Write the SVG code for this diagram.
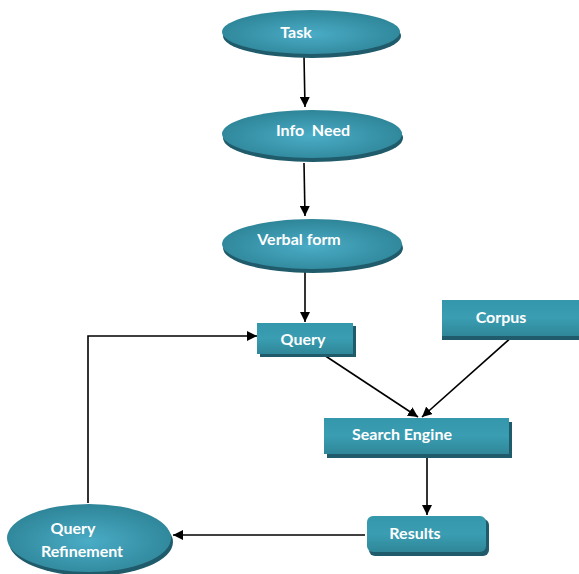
<svg xmlns="http://www.w3.org/2000/svg" width="579" height="574" viewBox="0 0 579 574">
<defs>
<radialGradient id="g" cx="0.5" cy="0.55" r="0.55">
<stop offset="0" stop-color="#4aacc6"/>
<stop offset="1" stop-color="#2e8598"/>
</radialGradient>
<linearGradient id="gr" x1="0" y1="0" x2="0" y2="1">
<stop offset="0" stop-color="#3497ab"/>
<stop offset="0.5" stop-color="#3a9db2"/>
<stop offset="1" stop-color="#2f8798"/>
</linearGradient>
<marker id="ah" viewBox="0 0 10 10" refX="10" refY="5" markerWidth="10" markerHeight="10" markerUnits="userSpaceOnUse" orient="auto">
<path d="M0,0 L10,5 L0,10 Z" fill="#000"/>
</marker>
</defs>
<style>
.sh{fill:#1f5b6a}
.face{fill:url(#g)}
.box{fill:url(#gr)}
text{font-family:Lato,"Open Sans","Liberation Sans",sans-serif;font-weight:bold;font-size:16px;fill:#fff;text-anchor:middle}
.c line,.c path{stroke:#000;stroke-width:1.6;fill:none;marker-end:url(#ah)}
</style>
<g class="c" id="connectors">
<line x1="304" y1="56" x2="305" y2="107"/>
<line x1="304" y1="163" x2="305" y2="216"/>
<line x1="305" y1="271" x2="305" y2="322"/>
<line x1="324" y1="355" x2="418" y2="417"/>
<line x1="514" y1="335" x2="422" y2="417"/>
<line x1="427" y1="456" x2="427" y2="515"/>
<line x1="365" y1="535" x2="173" y2="535"/>
<path d="M88,503 V336 H257"/>
</g>
<g id="task">
<ellipse class="sh" cx="312" cy="36" rx="89" ry="22"/>
<ellipse class="face" cx="311" cy="32" rx="89" ry="22"/>
<text x="296" y="38">Task</text>
</g>
<g id="info-need">
<ellipse class="sh" cx="313" cy="138" rx="90" ry="24"/>
<ellipse class="face" cx="312" cy="134" rx="90" ry="24"/>
<text x="313" y="136" xml:space="preserve">Info  Need</text>
</g>
<g id="verbal-form">
<ellipse class="sh" cx="313" cy="248" rx="90" ry="25"/>
<ellipse class="face" cx="312" cy="244" rx="90" ry="25"/>
<text x="299" y="245">Verbal form</text>
</g>
<g id="query">
<rect class="sh" x="260" y="326" width="96" height="31"/>
<rect class="box" x="257" y="323" width="96" height="31"/>
<text x="303" y="345">Query</text>
</g>
<g id="corpus">
<rect class="sh" x="442" y="304" width="140" height="36"/>
<rect class="box" x="442" y="300" width="140" height="36"/>
<text x="501" y="323">Corpus</text>
</g>
<g id="search-engine">
<rect class="sh" x="327" y="422" width="185" height="36"/>
<rect class="box" x="324" y="418" width="185" height="36"/>
<text x="402" y="440">Search Engine</text>
</g>
<g id="results">
<rect class="sh" x="369" y="519" width="120" height="37" rx="6"/>
<rect class="box" x="367" y="516" width="119" height="36" rx="6"/>
<text x="415" y="539">Results</text>
</g>
<g id="query-refinement">
<ellipse class="sh" cx="91" cy="542" rx="82" ry="34"/>
<ellipse class="face" cx="89" cy="538" rx="82" ry="34"/>
<text x="73" y="534">Query</text>
<text x="82" y="557">Refinement</text>
</g>
</svg>
